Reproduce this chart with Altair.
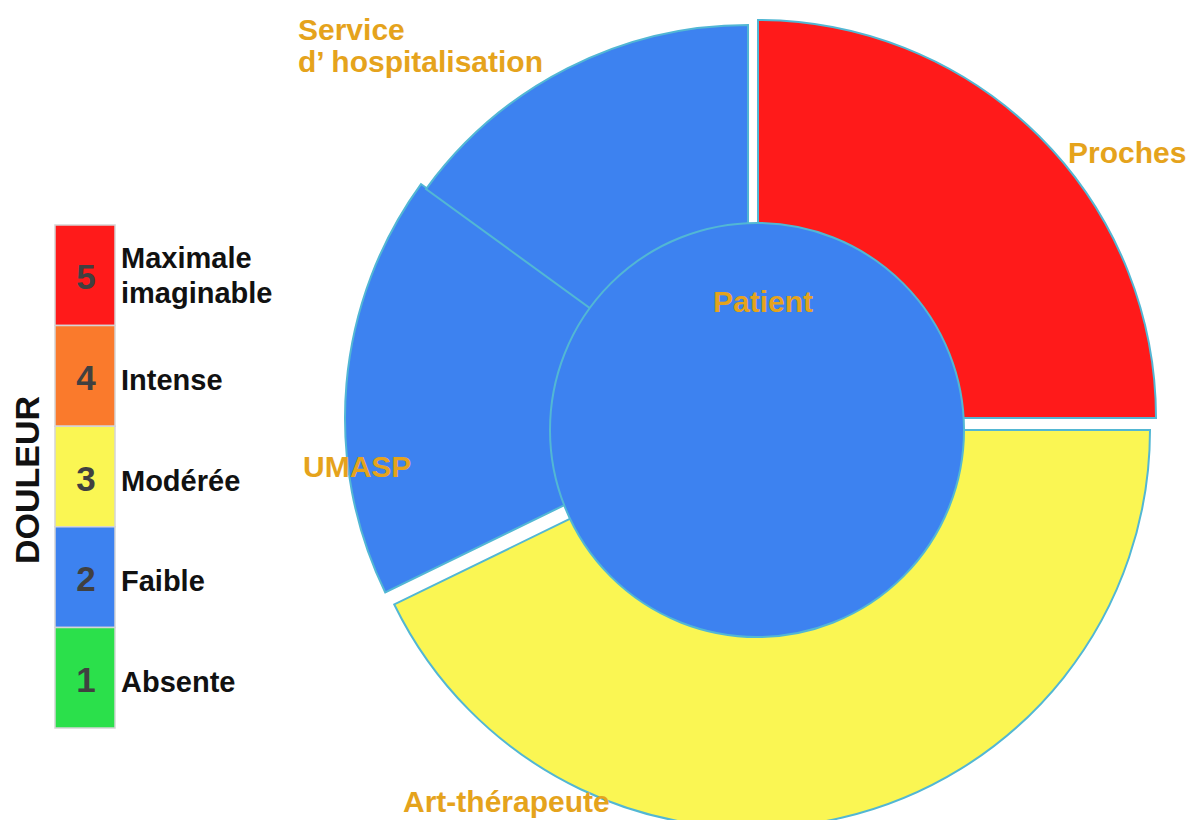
import altair as alt
import pandas as pd
import numpy as np

# ---------------- data ----------------
segments = ["Proches", "Art-thérapeute", "UMASP", "Service d’ hospitalisation"]
seg_angles = [90, 154, 62, 54]          # degrees of the ring, clockwise from 12 o'clock
seg_levels = [5, 3, 2, 2]               # pain level of each actor
seg_label_lines = [["Proches"], ["Art-thérapeute"], ["UMASP"], ["Service", "d’ hospitalisation"]]
center_name = "Patient"
center_level = 2

levels = [5, 4, 3, 2, 1]
level_labels = [["Maximale", "imaginable"], ["Intense"], ["Modérée"], ["Faible"], ["Absente"]]
level_colors = ["#FF1A1A", "#FA7A2C", "#FAF653", "#3D82F0", "#2BE04B"]
scale_title = "DOULEUR"

# ---------------- style / layout ----------------
W, H = 1180, 812
FONT = "Liberation Sans"
LABEL_COLOR = "#E5A31C"
RING_STROKE = "#52B7D4"
OUTER_R = 398
INNER_R = 207
seg_centers = [(750, 410), (744, 422), (735, 410), (740, 415)]
circle_center = (749, 422)
seg_label_pos = [(1060, 155), (395, 804), (295, 469), (290, 32)]
center_label_pos = (705, 304)

end = np.cumsum(seg_angles)
seg_df = pd.DataFrame({
    "name": segments,
    "start": end - np.array(seg_angles),
    "end": end,
    "level": seg_levels,
})

color_scale = alt.Scale(domain=sorted(levels), range=level_colors[::-1])
theta_scale = alt.Scale(domain=[0, 360], range=[0, 2 * np.pi])

layers = []
# ring segments, each exploded around its own centre
for i, name in enumerate(segments):
    cx, cy = seg_centers[i]
    layers.append(
        alt.Chart(seg_df)
        .transform_filter(alt.datum.name == name)
        .mark_arc(radius=OUTER_R, radius2=0, stroke=RING_STROKE, strokeWidth=2)
        .encode(
            theta=alt.Theta("start:Q", scale=theta_scale),
            theta2="end:Q",
            x=alt.value(cx),
            y=alt.value(cy),
            color=alt.Color("level:O", scale=color_scale, legend=None),
        )
    )

# central circle (Patient)
center_df = pd.DataFrame({"name": [center_name], "level": [center_level], "start": [0], "end": [360]})
layers.append(
    alt.Chart(center_df)
    .mark_arc(radius=INNER_R, radius2=0, stroke=RING_STROKE, strokeWidth=2)
    .encode(
        theta=alt.Theta("start:Q", scale=theta_scale),
        theta2="end:Q",
        x=alt.value(circle_center[0]),
        y=alt.value(circle_center[1]),
        color=alt.Color("level:O", scale=color_scale, legend=None),
    )
)

# segment labels
for i, lines in enumerate(seg_label_lines):
    lx, ly = seg_label_pos[i]
    layers.append(
        alt.Chart(pd.DataFrame({"t": [lines]}))
        .mark_text(font=FONT, fontWeight="bold", fontSize=30, color=LABEL_COLOR,
                   align="left", baseline="alphabetic", lineHeight=32)
        .encode(x=alt.value(lx), y=alt.value(ly), text="t")
    )
layers.append(
    alt.Chart(pd.DataFrame({"t": [center_name]}))
    .mark_text(font=FONT, fontWeight="bold", fontSize=30, color=LABEL_COLOR,
               align="left", baseline="alphabetic")
    .encode(x=alt.value(center_label_pos[0]), y=alt.value(center_label_pos[1]), text="t")
)

# pain scale legend
leg_df = pd.DataFrame({
    "level": levels,
    "label": level_labels,
    "num": [str(v) for v in levels],
    "nlines": [len(l) for l in level_labels],
})
y_enc = alt.Y("level:O", sort=levels, axis=None,
              scale=alt.Scale(range=[217, 720], paddingInner=0, paddingOuter=0))
layers.append(
    alt.Chart(leg_df)
    .mark_rect(stroke="#D5D5D5", strokeWidth=1.5)
    .encode(
        x=alt.value(47), x2=alt.value(107), y=y_enc,
        color=alt.Color("level:O", scale=color_scale, legend=None),
    )
)
layers.append(
    alt.Chart(leg_df)
    .mark_text(font=FONT, fontWeight="bold", fontSize=35, color="#404040",
               align="center", baseline="middle", dy=3)
    .encode(x=alt.value(78), y=y_enc, text="num:N")
)
layers.append(
    alt.Chart(leg_df)
    .transform_filter(alt.datum.nlines == 1)
    .mark_text(font=FONT, fontWeight="bold", fontSize=29, color="#111111",
               align="left", baseline="middle", dy=5)
    .encode(x=alt.value(113), y=y_enc, text="label")
)
layers.append(
    alt.Chart(leg_df)
    .transform_filter(alt.datum.nlines > 1)
    .mark_text(font=FONT, fontWeight="bold", fontSize=29, color="#111111",
               align="left", baseline="middle", lineHeight=35, dy=-16)
    .encode(x=alt.value(113), y=y_enc, text="label")
)
layers.append(
    alt.Chart(pd.DataFrame({"t": [scale_title]}))
    .mark_text(font=FONT, fontWeight="bold", fontSize=34, color="#111111",
               align="center", baseline="middle", angle=270)
    .encode(x=alt.value(21), y=alt.value(472), text="t")
)

chart = (
    alt.layer(*layers)
    .properties(width=W, height=H, padding=0, autosize=alt.AutoSizeParams(type="none"))
    .configure_view(stroke=None)
)

chart.save("out.html", embed_options={"renderer": "svg", "actions": False})
